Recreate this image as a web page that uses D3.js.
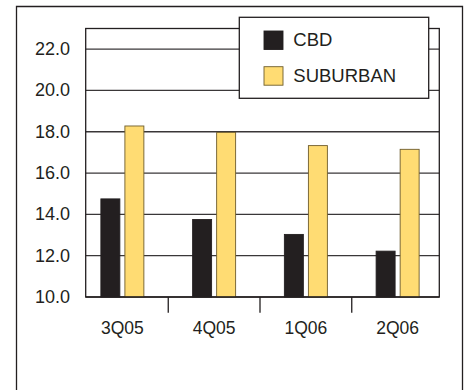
<!DOCTYPE html>
<html>
<head>
<meta charset="utf-8">
<script src="https://cdn.jsdelivr.net/npm/d3@7/dist/d3.min.js"></script>
<style>
  html, body { margin: 0; padding: 0; background: #fff; }
  svg { display: block; }
  text { font-family: "Liberation Sans", Arial, Helvetica, sans-serif; fill: #231f20; }
</style>
</head>
<body>
<svg id="chart" width="467" height="390"></svg>
<script>
// Quarterly rates, CBD vs suburban
const quarters = ["3Q05", "4Q05", "1Q06", "2Q06"];
const seriesNames = ["CBD", "SUBURBAN"];
const cbdValues = [14.75, 13.75, 13.03, 12.22];
const suburbanValues = [18.28, 17.97, 17.33, 17.15];
const yTickValues = [10, 12, 14, 16, 18, 20, 22];
const seriesColors = ["#231f20", "#ffdc73"];
const seriesStrokes = ["#231f20", "#6e5c2c"];

const svg = d3.select("#chart");
const ink = "#231f20";

// Outer frame (open at the bottom)
svg.append("path")
  .attr("d", "M16.5,390 V6.5 H462.5 V390")
  .attr("fill", "none").attr("stroke", ink).attr("stroke-width", 1.3);

const plot = { left: 85.7, right: 439.3, bottom: 297 };

const y = d3.scaleLinear().domain([10, 23]).range([plot.bottom, 28.5]);
const x = d3.scaleBand().domain(quarters).range([76.5, 443.5]).padding(0);
const x1 = d3.scaleBand().domain(seriesNames)
  .range([-21.5, 21.5]).paddingInner(0.21).paddingOuter(0);

// Horizontal gridlines
svg.append("g").selectAll("line")
  .data(yTickValues.filter(v => v > 10))
  .join("line")
  .attr("x1", plot.left).attr("x2", plot.right)
  .attr("y1", d => y(d)).attr("y2", d => y(d))
  .attr("stroke", "#3a3738").attr("stroke-width", 1.3);

// Plot frame
svg.append("rect")
  .attr("x", plot.left).attr("y", y(23))
  .attr("width", plot.right - plot.left).attr("height", plot.bottom - y(23))
  .attr("fill", "none").attr("stroke", ink).attr("stroke-width", 1.3);

// Y axis labels
svg.append("g").selectAll("text")
  .data(yTickValues)
  .join("text")
  .attr("x", 70).attr("y", d => y(d) + 6)
  .attr("text-anchor", "end")
  .attr("font-size", "18px")
  .text(d => d3.format(".1f")(d));

// Bars
const rows = quarters.map((q, i) => ({ q, values: [cbdValues[i], suburbanValues[i]] }));
const groups = svg.append("g").selectAll("g")
  .data(rows)
  .join("g")
  .attr("transform", d => `translate(${x(d.q) + x.bandwidth() / 2},0)`);

groups.selectAll("rect")
  .data(d => d.values.map((v, k) => ({ v, k })))
  .join("rect")
  .attr("x", d => x1(seriesNames[d.k]))
  .attr("width", x1.bandwidth())
  .attr("y", d => y(d.v))
  .attr("height", d => y(10) - y(d.v))
  .attr("fill", d => seriesColors[d.k])
  .attr("stroke", d => seriesStrokes[d.k])
  .attr("stroke-width", 0.9);

// Baseline redrawn over bars
svg.append("line")
  .attr("x1", plot.left).attr("x2", plot.right)
  .attr("y1", plot.bottom).attr("y2", plot.bottom)
  .attr("stroke", ink).attr("stroke-width", 1.3);

// Category separators below the axis
svg.append("g").selectAll("line")
  .data(quarters.slice(1))
  .join("line")
  .attr("x1", d => x(d)).attr("x2", d => x(d))
  .attr("y1", plot.bottom).attr("y2", 312.7)
  .attr("stroke", ink).attr("stroke-width", 1.3);

// Category labels
svg.append("g").selectAll("text")
  .data(quarters)
  .join("text")
  .attr("x", d => x(d) + x.bandwidth() / 2)
  .attr("y", 334)
  .attr("text-anchor", "middle")
  .attr("font-size", "17.5px")
  .text(d => d);

// Legend
const legend = svg.append("g");
legend.append("rect")
  .attr("x", 239.3).attr("y", 17.3).attr("width", 189.4).attr("height", 81)
  .attr("fill", "#fff").attr("stroke", ink).attr("stroke-width", 1.3);

const legendRows = legend.selectAll("g.item")
  .data(seriesNames)
  .join("g").attr("class", "item")
  .attr("transform", (d, i) => `translate(264, ${31 + i * 35.7})`);

legendRows.append("rect")
  .attr("width", 19).attr("height", 18.5)
  .attr("fill", (d, i) => seriesColors[i])
  .attr("stroke", (d, i) => seriesStrokes[i])
  .attr("stroke-width", 0.9);

legendRows.append("text")
  .attr("x", 29.3).attr("y", 15.3)
  .attr("font-size", "18.5px")
  .text(d => d);
</script>
</body>
</html>
